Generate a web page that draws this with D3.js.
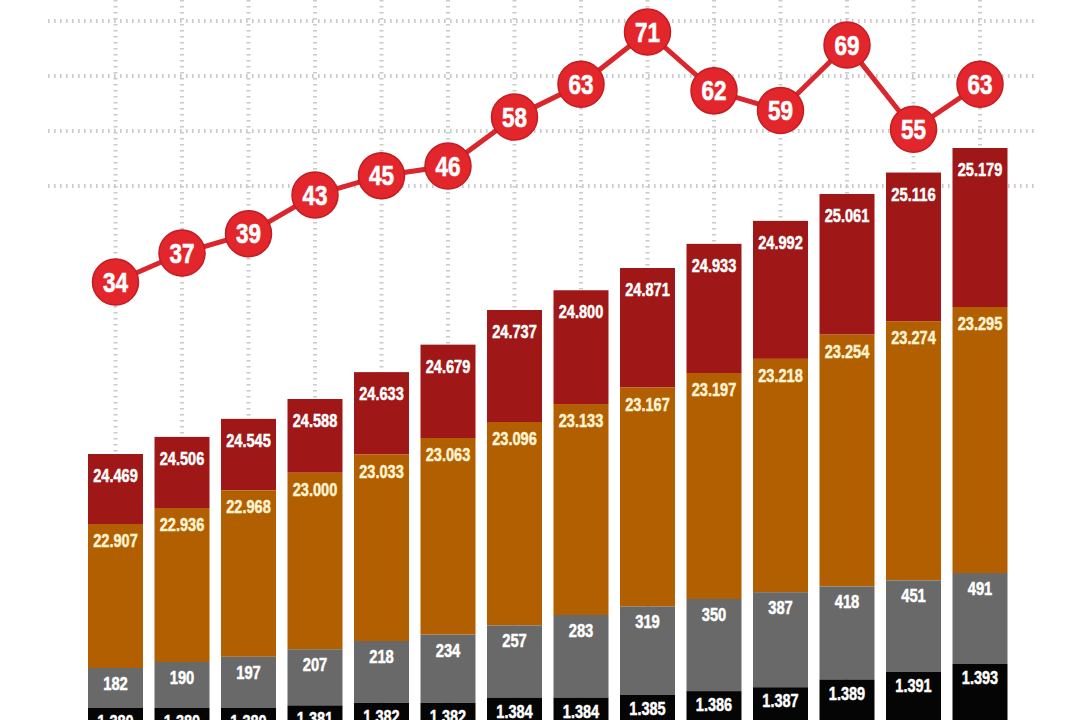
<!DOCTYPE html>
<html>
<head>
<meta charset="utf-8">
<script src="https://cdn.jsdelivr.net/npm/d3@7"></script>
<style>
  html, body { margin: 0; padding: 0; background: #fff; overflow: hidden; }
  #chart-wrap { width: 1080px; height: 720px; }
  text { font-family: "Liberation Sans", Arial, "DejaVu Sans", sans-serif; font-weight: bold; }
</style>
</head>
<body>
<div id="chart-wrap"></div>
<script>
// data, left to right
const blackVals  = [1.380, 1.380, 1.380, 1.381, 1.382, 1.382, 1.384, 1.384, 1.385, 1.386, 1.387, 1.389, 1.391, 1.393];
const grayVals   = [182, 190, 197, 207, 218, 234, 257, 283, 319, 350, 387, 418, 451, 491];
const orangeVals = [22.907, 22.936, 22.968, 23.000, 23.033, 23.063, 23.096, 23.133, 23.167, 23.197, 23.218, 23.254, 23.274, 23.295];
const redVals    = [24.469, 24.506, 24.545, 24.588, 24.633, 24.679, 24.737, 24.800, 24.871, 24.933, 24.992, 25.061, 25.116, 25.179];
const lineVals   = [34, 37, 39, 43, 45, 46, 58, 63, 71, 62, 59, 69, 55, 63];
const gridRows   = [0, 1, 2, 3];

const width = 1080,
      height = 720,
      barBottom = 730;

const fmt3 = d3.format('.3f');

// the infographic uses a broken, piecewise axis for every layer of the stack
const xScale = d3.scaleBand()
  .domain(d3.range(redVals.length))
  .range([82.25, 1013.25])
  .paddingInner(0.173)
  .paddingOuter(0.0865);

const blackScale  = d3.scaleLinear().domain([1.380, 1.385, 1.393]).range([708, 695, 664]);
const grayScale   = d3.scaleLinear().domain([182, 218, 283, 350, 491]).range([668, 641, 615, 599, 573]);
const orangeScale = d3.scaleLinear().domain([22.907, 23.063, 23.197, 23.295]).range([524, 438, 373, 307]);
const redScale    = d3.scaleLinear().domain([24.469, 24.588, 24.737, 24.871, 25.179]).range([454, 399, 310, 268, 148]);
const lineScale   = d3.scaleLinear().domain([34, 46, 58, 71]).range([282, 166, 117, 32]);
const gridScale   = d3.scaleLinear().domain([0, 3]).range([186, 21]);

const cx = i => xScale(i) + xScale.bandwidth() / 2;

// squeeze the label to a condensed look (no narrow font offline)
function condensed(str, digitW, dotW) {
  const digits = str.replace(/\./g, '').length;
  const dots = str.length - digits;
  return digits * digitW + dots * dotW;
}

const $svg = d3.select('#chart-wrap').append('svg')
  .attr('width', width)
  .attr('height', height);

// grid
const $grid = $svg.append('g').attr('class', 'grid');

$grid.selectAll('.vline')
  .data(d3.range(redVals.length))
  .enter()
  .append('line')
  .attr('class', 'vline')
  .attr('x1', cx).attr('x2', cx)
  .attr('y1', 0).attr('y2', height)
  .style('stroke', '#c9c9c9')
  .style('stroke-width', 4)
  .style('stroke-dasharray', '1.6 4.4');

$grid.selectAll('.hline')
  .data(gridRows)
  .enter()
  .append('line')
  .attr('class', 'hline')
  .attr('x1', 48).attr('x2', 1034)
  .attr('y1', d => gridScale(d)).attr('y2', d => gridScale(d))
  .style('stroke', '#c9c9c9')
  .style('stroke-width', 4)
  .style('stroke-dasharray', '1.6 4.4');

// stacked bars
const layers = [
  { vals: redVals,    scale: redScale,    next: i => orangeScale(orangeVals[i]), fill: '#9f1717', text: '#ffffff', dy: 28 },
  { vals: orangeVals, scale: orangeScale, next: i => grayScale(grayVals[i]),     fill: '#b25f02', text: '#fff4d2', dy: 23 },
  { vals: grayVals,   scale: grayScale,   next: i => blackScale(blackVals[i]),   fill: '#696969', text: '#ffffff', dy: 22 },
  { vals: blackVals,  scale: blackScale,  next: () => barBottom,                 fill: '#050505', text: '#ffffff', dy: 20 }
];

layers.forEach((layer, k) => {
  const $g = $svg.append('g').attr('class', 'layer-' + k);

  $g.selectAll('rect')
    .data(layer.vals)
    .enter()
    .append('rect')
    .attr('x', (d, i) => xScale(i))
    .attr('width', xScale.bandwidth())
    .attr('y', d => layer.scale(d))
    .attr('height', (d, i) => layer.next(i) - layer.scale(d))
    .style('fill', layer.fill);

  $g.selectAll('text')
    .data(layer.vals)
    .enter()
    .append('text')
    .attr('x', (d, i) => cx(i))
    .attr('y', d => layer.scale(d) + layer.dy)
    .attr('text-anchor', 'middle')
    .style('font-size', '19px')
    .style('fill', layer.text)
    .style('stroke', layer.text)
    .style('stroke-width', 0.5)
    .text(d => d < 100 ? fmt3(d) : d)
    .attr('textLength', function() { return condensed(this.textContent, 8.2, 3.5); })
    .attr('lengthAdjust', 'spacingAndGlyphs');
});

// line with numbered dots
const line = d3.line()
  .x((d, i) => cx(i))
  .y(d => lineScale(d));

$svg.append('path')
  .datum(lineVals)
  .attr('d', line)
  .style('fill', 'none')
  .style('stroke', '#d9272d')
  .style('stroke-width', 5);

const $dots = $svg.selectAll('.dot')
  .data(lineVals)
  .enter()
  .append('g')
  .attr('class', 'dot')
  .attr('transform', (d, i) => `translate(${cx(i)}, ${lineScale(d)})`);

$dots.append('circle')
  .attr('r', 23)
  .style('fill', '#e2262c')
  .style('stroke', '#c21d22')
  .style('stroke-width', 1.5);

$dots.append('text')
  .attr('text-anchor', 'middle')
  .attr('y', 9.5)
  .style('font-size', '27px')
  .style('fill', '#ffffff')
  .style('stroke', '#ffffff')
  .style('stroke-width', 0.6)
  .text(d => d)
  .attr('textLength', function() { return condensed(this.textContent, 12.5, 4); })
  .attr('lengthAdjust', 'spacingAndGlyphs');
</script>
</body>
</html>
